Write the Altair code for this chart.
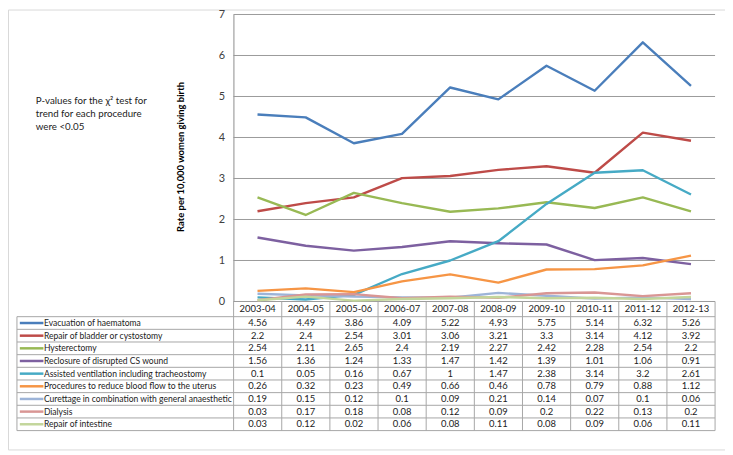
import altair as alt
import pandas as pd

years = ["2003-04", "2004-05", "2005-06", "2006-07", "2007-08",
         "2008-09", "2009-10", "2010-11", "2011-12", "2012-13"]

series_names = [
    "Evacuation of haematoma",
    "Repair of bladder or cystostomy",
    "Hysterectomy",
    "Reclosure of disrupted CS wound",
    "Assisted ventilation including tracheostomy",
    "Procedures to reduce blood flow to the uterus",
    "Curettage in combination with general anaesthetic",
    "Dialysis",
    "Repair of intestine",
]

evacuation = [4.56, 4.49, 3.86, 4.09, 5.22, 4.93, 5.75, 5.14, 6.32, 5.26]
bladder = [2.2, 2.4, 2.54, 3.01, 3.06, 3.21, 3.3, 3.14, 4.12, 3.92]
hysterectomy = [2.54, 2.11, 2.65, 2.4, 2.19, 2.27, 2.42, 2.28, 2.54, 2.2]
reclosure = [1.56, 1.36, 1.24, 1.33, 1.47, 1.42, 1.39, 1.01, 1.06, 0.91]
ventilation = [0.1, 0.05, 0.16, 0.67, 1, 1.47, 2.38, 3.14, 3.2, 2.61]
blood_flow = [0.26, 0.32, 0.23, 0.49, 0.66, 0.46, 0.78, 0.79, 0.88, 1.12]
curettage = [0.19, 0.15, 0.12, 0.1, 0.09, 0.21, 0.14, 0.07, 0.1, 0.06]
dialysis = [0.03, 0.17, 0.18, 0.08, 0.12, 0.09, 0.2, 0.22, 0.13, 0.2]
intestine = [0.03, 0.12, 0.02, 0.06, 0.08, 0.11, 0.08, 0.09, 0.06, 0.11]

series_values = [evacuation, bladder, hysterectomy, reclosure, ventilation,
                 blood_flow, curettage, dialysis, intestine]

colors = ["#4A7EBB", "#BE4B48", "#98B954", "#7D60A0", "#46AAC5",
          "#F69545", "#9DB4D8", "#D99694", "#C3D69B"]

y_ticks = [0, 1, 2, 3, 4, 5, 6, 7]

note_lines = ["P-values for the \u03c7\u00b2 test for",
              "trend for each procedure",
              "were <0.05"]

FONT = "Lato"

# ---------------- data tables ----------------
rows = []
for s, (name, vals) in enumerate(zip(series_names, series_values)):
    for i, (yr, v) in enumerate(zip(years, vals)):
        rows.append(dict(series=name, order=s, year=yr, xi=i + 0.5,
                         value=v, row=s + 0.5, label=f"{v:g}"))
df = pd.DataFrame(rows)

df_names = pd.DataFrame(dict(series=series_names,
                             row=[s + 0.5 for s in range(len(series_names))]))
df_years = pd.DataFrame(dict(year=years, xi=[i + 0.5 for i in range(len(years))]))
df_grid = pd.DataFrame(dict(tick=y_ticks))

n_rows = len(series_names)
n_cols = len(years)
df_hlines = pd.DataFrame(dict(y=list(range(n_rows + 1))))
df_vlines = pd.DataFrame(dict(
    x=[-4.5] + list(range(n_cols + 1)),
    y0=[0] + [-1.2] * (n_cols + 1),
))

color_scale = alt.Scale(domain=series_names, range=colors)

# ---------------- line chart part ----------------
x_line = alt.Scale(domain=[0, n_cols], range=[227, 712], nice=False, zero=False)
y_line = alt.Scale(domain=[0, 7], range=[294, 5], nice=False, zero=False)
y_axis = alt.Axis(values=y_ticks, grid=False, ticks=False, domain=True,
                  domainColor="#8c8c8c", offset=-227, labelPadding=9,
                  labelFont=FONT, labelFontSize=11, labelColor="#404040",
                  title="Rate per 10,000 women giving birth",
                  titleFont=FONT, titleFontSize=9.5, titleFontWeight="bold",
                  titleColor="#000000", titleX=-53, titleY=148,
                  titleAlign="center", titleBaseline="middle", titleAngle=-90)

grid = alt.Chart(df_grid).mark_rule(color="#9a9a9a", strokeWidth=1).encode(
    y=alt.Y("tick:Q", scale=y_line, axis=y_axis),
    x=alt.X(datum=0, type="quantitative", scale=x_line, axis=None),
    x2=alt.X2(datum=n_cols),
)

lines = alt.Chart(df).mark_line(strokeWidth=2.4, strokeJoin="round").encode(
    x=alt.X("xi:Q", scale=x_line, axis=None),
    y=alt.Y("value:Q", scale=y_line, axis=y_axis),
    color=alt.Color("series:N", scale=color_scale, legend=None),
    order=alt.Order("order:Q"),
    detail="order:Q",
)

line_part = alt.layer(grid, lines)

# ---------------- data table part ----------------
x_tab = alt.Scale(domain=[-4.5, n_cols], range=[9, 712], nice=False, zero=False)
y_tab = alt.Scale(domain=[-1.2, n_rows], range=[294, 424], nice=False, zero=False)

hl = alt.Chart(df_hlines).mark_rule(color="#a6a6a6", strokeWidth=1).encode(
    y=alt.Y("y:Q", scale=y_tab, axis=None),
    x=alt.X(datum=-4.5, type="quantitative", scale=x_tab, axis=None),
    x2=alt.X2(datum=n_cols),
)
vl = alt.Chart(df_vlines).mark_rule(color="#a6a6a6", strokeWidth=1).encode(
    x=alt.X("x:Q", scale=x_tab, axis=None),
    y=alt.Y("y0:Q", scale=y_tab, axis=None),
    y2=alt.Y2(datum=n_rows),
)
year_text = alt.Chart(df_years).mark_text(font=FONT, fontSize=9.5, color="#222222",
                                           baseline="middle", align="center").encode(
    x=alt.X("xi:Q", scale=x_tab, axis=None),
    y=alt.Y(datum=-0.6, type="quantitative", scale=y_tab, axis=None),
    text="year:N",
)
value_text = alt.Chart(df).mark_text(font=FONT, fontSize=9.5, color="#222222",
                                      baseline="middle", align="center").encode(
    x=alt.X("xi:Q", scale=x_tab, axis=None),
    y=alt.Y("row:Q", scale=y_tab, axis=None),
    text="label:N",
)
keys = alt.Chart(df_names).mark_rule(strokeWidth=2.5).encode(
    x=alt.X(datum=-4.44, type="quantitative", scale=x_tab, axis=None),
    x2=alt.X2(datum=-3.95),
    y=alt.Y("row:Q", scale=y_tab, axis=None),
    color=alt.Color("series:N", scale=color_scale, legend=None),
)
name_text = alt.Chart(df_names).mark_text(font=FONT, fontSize=8.6, color="#222222",
                                           baseline="middle", align="left").encode(
    x=alt.X(datum=-3.94, type="quantitative", scale=x_tab, axis=None),
    y=alt.Y("row:Q", scale=y_tab, axis=None),
    text="series:N",
)
table_part = alt.layer(hl, vl, year_text, value_text, keys, name_text)

# ---------------- note ----------------
note = alt.Chart(pd.DataFrame(dict(t=[note_lines]))).mark_text(
    font=FONT, fontSize=9.8, color="#222222", align="left", baseline="middle",
    lineHeight=13,
).encode(
    x=alt.value(28), y=alt.value(92), text="t",
)

chart = alt.layer(line_part, table_part, note).resolve_scale(
    x="independent", y="independent"
).properties(
    width=722, height=443, padding=0, autosize="none",
).configure_view(stroke="#d9d9d9", strokeWidth=1)

chart.save("out.html", embed_options={"renderer": "svg", "actions": False})
